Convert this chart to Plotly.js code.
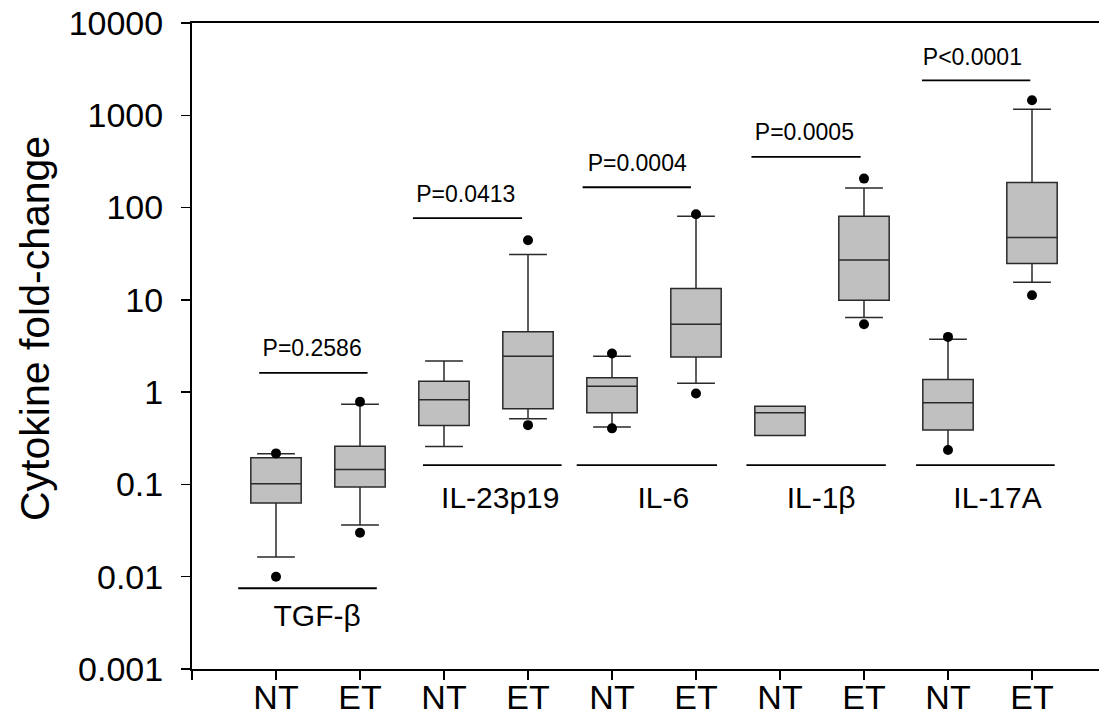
<!DOCTYPE html>
<html>
<head>
<meta charset="utf-8">
<script src="https://cdn.plot.ly/plotly-3.0.1.min.js"></script>
<style>html,body{margin:0;padding:0;background:#fff;}#chart{width:1099px;height:717px;}</style>
</head>
<body>
<div id="chart"></div>
<script>
// ---- data ----
var positions = [1, 2, 3, 4, 5, 6, 7, 8, 9, 10];
var tickLabels = ['NT', 'ET', 'NT', 'ET', 'NT', 'ET', 'NT', 'ET', 'NT', 'ET'];
var groups = ['TGF-β', 'IL-23p19', 'IL-6', 'IL-1β', 'IL-17A'];

var q1 = [0.0628, 0.0935, 0.436, 0.659, 0.597, 2.41, 0.340, 9.93, 0.388, 24.8];
var median = [0.1016, 0.1455, 0.826, 2.45, 1.16, 5.45, 0.597, 27.1, 0.766, 47.4];
var q3 = [0.195, 0.260, 1.316, 4.50, 1.43, 13.3, 0.705, 80.5, 1.37, 187];
var lowerWhisker = [0.0164, 0.0363, 0.258, 0.514, 0.418, 1.25, 0.340, 6.44, 0.388, 15.5];
var upperWhisker = [0.215, 0.741, 2.17, 31.0, 2.45, 80.5, 0.705, 163, 3.75, 1162];
var uncappedLowerWhisker = [null, null, null, null, null, null, null, null, 0.236, null];

var outlierHigh = [0.217, 0.785, null, 44.3, 2.62, 84.7, null, 206, 3.97, 1455];
var outlierLow = [0.0100, 0.0299, null, 0.439, 0.405, 0.968, null, 5.45, 0.236, 11.2];

var groupLineStart = [0.55, 2.75, 4.58, 6.60, 8.62];
var groupLineEnd = [2.20, 4.40, 6.25, 8.26, 10.27];
var groupLineLevel = [0.0075, 0.162, 0.162, 0.162, 0.162];
var groupLabelX = [1.49, 3.67, 5.61, 7.49, 9.59];
var groupLabelY = [0.00357, 0.0676, 0.0676, 0.0676, 0.0676];

var pTexts = ['P=0.2586', 'P=0.0413', 'P=0.0004', 'P=0.0005', 'P<0.0001'];
var pLineStart = [0.80, 2.63, 4.65, 6.66, 8.69];
var pLineEnd = [2.09, 3.93, 5.94, 7.96, 9.98];
var pLineLevel = [1.62, 76.7, 166, 354, 2395];
var pTextX = [1.43, 3.26, 5.30, 7.29, 9.29];
var pTextY = [2.85, 133, 288, 622, 4045];

var yTickVals = [0.001, 0.01, 0.1, 1, 10, 100, 1000, 10000];
var yTickText = ['0.001', '0.01', '0.1', '1', '10', '100', '1000', '10000'];

// ---- build traces ----
var FONT = '"Liberation Sans", Arial, sans-serif';

var boxTrace = {
  type: 'box',
  x: positions,
  q1: q1, median: median, q3: q3,
  lowerfence: lowerWhisker, upperfence: upperWhisker,
  width: 0.6,
  whiskerwidth: 0.75,
  fillcolor: '#c0c0c0',
  line: {color: '#2a2a2a', width: 1.5},
  boxpoints: false,
  hoverinfo: 'skip',
  showlegend: false
};

var wx = [], wy = [];
uncappedLowerWhisker.forEach(function (v, i) {
  if (v !== null) { wx.push(positions[i], positions[i], null); wy.push(q1[i], v, null); }
});
var whiskerTrace = {
  type: 'scatter', mode: 'lines', x: wx, y: wy,
  line: {color: '#2a2a2a', width: 1.5}, hoverinfo: 'skip', showlegend: false
};

var ox = [], oy = [];
positions.forEach(function (p, i) {
  if (outlierHigh[i] !== null) { ox.push(p); oy.push(outlierHigh[i]); }
  if (outlierLow[i] !== null) { ox.push(p); oy.push(outlierLow[i]); }
});
var outlierTrace = {
  type: 'scatter', mode: 'markers', x: ox, y: oy,
  marker: {color: '#000', size: 10}, hoverinfo: 'skip', showlegend: false, cliponaxis: false
};

var lx = [], ly = [];
groups.forEach(function (g, i) {
  lx.push(groupLineStart[i], groupLineEnd[i], null); ly.push(groupLineLevel[i], groupLineLevel[i], null);
  lx.push(pLineStart[i], pLineEnd[i], null); ly.push(pLineLevel[i], pLineLevel[i], null);
});
var lineTrace = {
  type: 'scatter', mode: 'lines', x: lx, y: ly,
  line: {color: '#000', width: 1.8}, hoverinfo: 'skip', showlegend: false
};

var groupText = {
  type: 'scatter', mode: 'text', x: groupLabelX, y: groupLabelY, text: groups,
  textposition: 'middle center', textfont: {family: FONT, size: 30, color: '#000'},
  hoverinfo: 'skip', showlegend: false, cliponaxis: false
};
var pText = {
  type: 'scatter', mode: 'text', x: pTextX, y: pTextY, text: pTexts,
  textposition: 'middle center', textfont: {family: FONT, size: 23, color: '#000'},
  hoverinfo: 'skip', showlegend: false, cliponaxis: false
};

var xTickVals = [0].concat(positions);
var xTickText = [''].concat(tickLabels);

var layout = {
  width: 1099, height: 717,
  margin: {l: 192, r: 0, t: 23, b: 48, pad: 0},
  paper_bgcolor: '#fff', plot_bgcolor: '#fff',
  font: {family: FONT, color: '#000'},
  showlegend: false,
  xaxis: {
    range: [0, 907 / 84], tickvals: xTickVals, ticktext: xTickText,
    ticks: 'outside', ticklen: 9, tickwidth: 1.5, tickcolor: '#000',
    showline: true, linecolor: '#000', linewidth: 2, mirror: true,
    showgrid: false, zeroline: false,
    tickfont: {family: FONT, size: 34, color: '#000'}, ticklabelstandoff: -12
  },
  yaxis: {
    type: 'log', range: [-3, 4], tickvals: yTickVals, ticktext: yTickText,
    ticks: 'outside', ticklen: 9, tickwidth: 1.5, tickcolor: '#000',
    showline: true, linecolor: '#000', linewidth: 2,
    showgrid: false, zeroline: false,
    tickfont: {family: FONT, size: 34, color: '#000'}, ticklabelstandoff: 11
  },
  annotations: [{
    text: 'Cytokine fold-change', textangle: -90,
    xref: 'paper', yref: 'paper', x: (35 - 192) / 907, y: (669 - 329) / 646,
    xanchor: 'center', yanchor: 'middle', showarrow: false,
    font: {family: FONT, size: 41, color: '#000'}
  }]
};

Plotly.newPlot('chart', [boxTrace, whiskerTrace, lineTrace, outlierTrace, groupText, pText], layout, {staticPlot: true, displayModeBar: false});
</script>
</body>
</html>
